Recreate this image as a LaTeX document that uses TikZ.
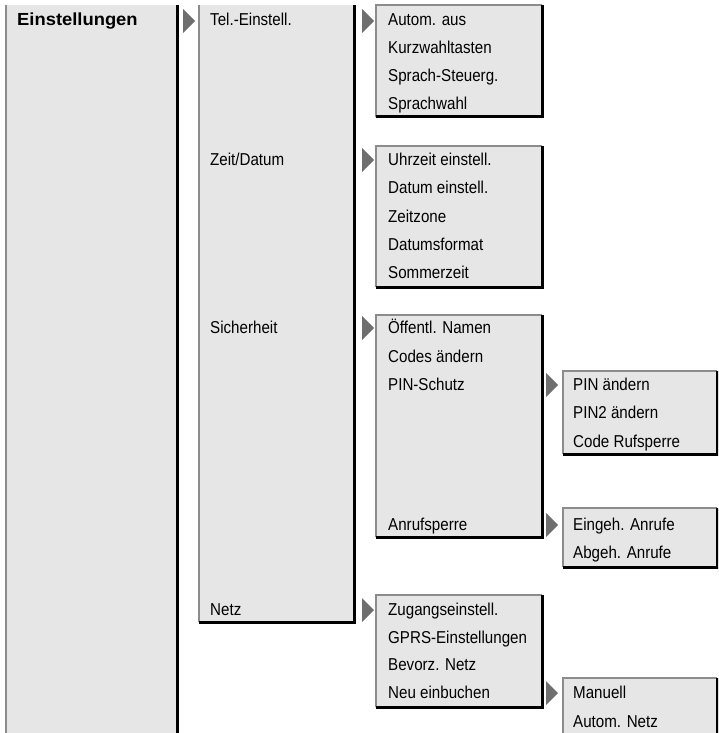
\documentclass[tikz,border=0pt]{standalone}
\usepackage{fontspec}
\setmainfont{Liberation Sans}
\newfontfamily\menufont[FakeStretch=0.88]{Liberation Sans}
\newfontfamily\headfont[FakeStretch=1.05]{Liberation Sans Bold}
\definecolor{boxgray}{HTML}{E6E6E6}
\definecolor{edgegray}{HTML}{8C8C8C}
\definecolor{trigray}{HTML}{6E6E6E}
\tikzset{
  mbox/.style={fill=boxgray, draw=none, inner sep=0pt, outer sep=0pt, anchor=north west},
  grayedge/.style={draw=edgegray, line width=1.6pt},
  blackedge/.style={draw=black, line width=3pt},
  item/.style={anchor=base west, inner sep=0pt, font=\menufont\fontsize{17.2}{19}\selectfont},
  head/.style={anchor=base west, inner sep=0pt, font=\headfont\fontsize{17.5}{20}\selectfont},
}
\newcommand{\marker}[3]{% left x, right x, baseline
  \fill[trigray] (#1,#3-17) -- (#2,#3-5) -- (#1,#3+7) -- cycle;}
\begin{document}
\begin{tikzpicture}[x=1pt,y=-1pt]
\useasboundingbox (0,0) rectangle (718,733);
\begin{scope}
\clip (0,0) rectangle (718,733);
% column 1
\node[mbox, minimum width=171pt, minimum height=740pt] (c1) at (6,5) {};
\draw[grayedge] (c1.south west) -- (c1.north west);
\draw[blackedge] (c1.north east) -- (c1.south east);
\node[head] (t1) at (17,26) {Einstellungen};
% column 2
\node[mbox, minimum width=155pt, minimum height=617pt] (c2) at (199,5) {};
\draw[grayedge] (c2.south west) -- (c2.north west);
\draw[blackedge] (c2.north east) -- (c2.south east) -- (c2.south west);
\node[item] (t21) at (210,26) {Tel.-Einstell.};
\node[item] (t22) at (210,165) {Zeit/Datum};
\node[item] (t23) at (210,333) {Sicherheit};
\node[item] (t24) at (210,615) {Netz};
% column 3 boxes
\node[mbox, minimum width=166pt, minimum height=112pt] (c3a) at (376,5) {};
\node[mbox, minimum width=166pt, minimum height=141pt] (c3b) at (376,146) {};
\node[mbox, minimum width=166pt, minimum height=222pt] (c3c) at (376,315) {};
\node[mbox, minimum width=166pt, minimum height=112pt] (c3d) at (376,595) {};
% column 4 boxes
\node[mbox, minimum width=154pt, minimum height=83pt] (c4a) at (563,371) {};
\node[mbox, minimum width=154pt, minimum height=59pt] (c4b) at (563,508) {};
\node[mbox, minimum width=154pt, minimum height=70pt] (c4c) at (563,678) {};
\foreach \b in {c3a,c3b,c3c,c3d,c4a,c4b,c4c}{
  \draw[grayedge] (\b.south west) -- (\b.north west) -- (\b.north east);
  \draw[blackedge] (\b.south west) -- (\b.south east) -- (\b.north east);
}
% column 3 texts
\node[item] (a1) at (388,26) {Autom. aus};
\node[item] (a2) at (388,54) {Kurzwahltasten};
\node[item] (a3) at (388,82) {Sprach-Steuerg.};
\node[item] (a4) at (388,110) {Sprachwahl};
\node[item] (b1) at (388,165) {Uhrzeit einstell.};
\node[item] (b2) at (388,193) {Datum einstell.};
\node[item] (b3) at (388,222) {Zeitzone};
\node[item] (b4) at (388,250) {Datumsformat};
\node[item] (b5) at (388,278) {Sommerzeit};
\node[item] (s1) at (388,333) {Öffentl. Namen};
\node[item] (s2) at (388,362) {Codes ändern};
\node[item] (s3) at (388,390) {PIN-Schutz};
\node[item] (s4) at (388,530) {Anrufsperre};
\node[item] (n1) at (388,615) {Zugangseinstell.};
\node[item] (n2) at (388,643) {GPRS-Einstellungen};
\node[item] (n3) at (388,670) {Bevorz. Netz};
\node[item] (n4) at (388,698) {Neu einbuchen};
% column 4 texts
\node[item] (p1) at (573,390) {PIN ändern};
\node[item] (p2) at (573,418) {PIN2 ändern};
\node[item] (p3) at (573,447) {Code Rufsperre};
\node[item] (r1) at (573,530) {Eingeh. Anrufe};
\node[item] (r2) at (573,558) {Abgeh. Anrufe};
\node[item] (m1) at (573,698) {Manuell};
\node[item] (m2) at (573,727) {Autom. Netz};
% markers
\marker{183}{195}{26}
\marker{362}{374}{26}
\marker{362}{374}{165}
\marker{362}{374}{333}
\marker{362}{374}{615}
\marker{546}{558}{390}
\marker{546}{558}{530}
\marker{546}{558}{698}
\end{scope}
\end{tikzpicture}
\end{document}
